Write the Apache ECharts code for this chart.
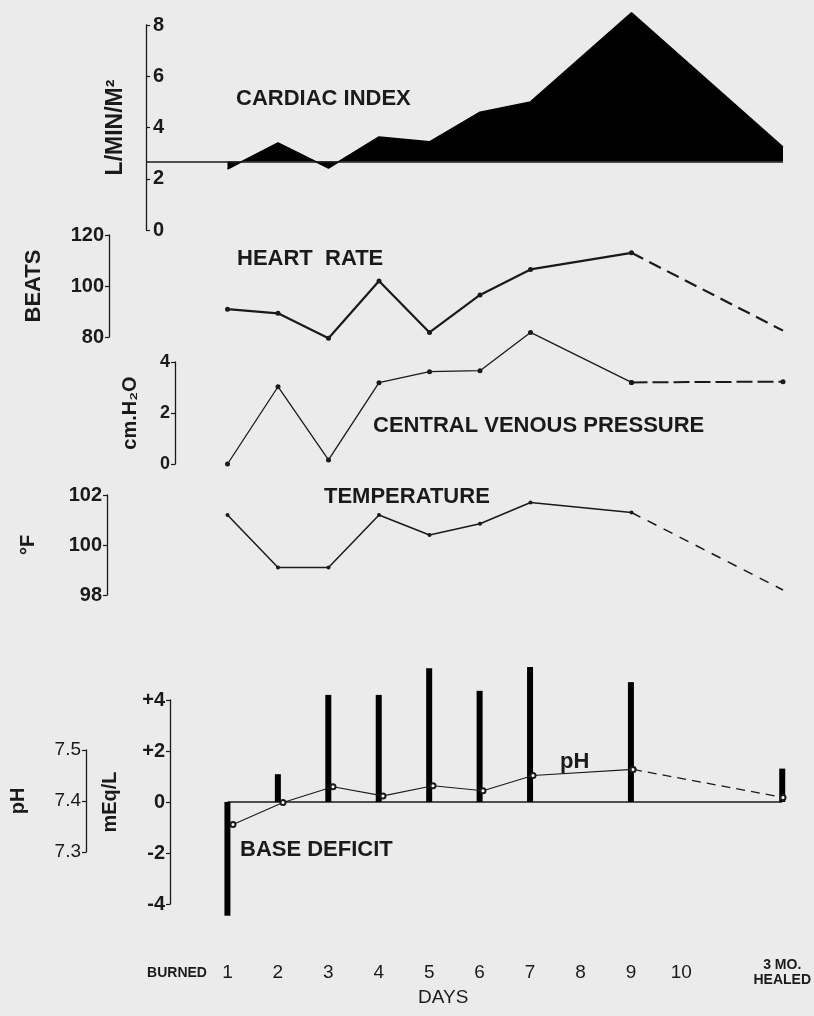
<!DOCTYPE html>
<html><head><meta charset="utf-8">
<script src="https://cdn.jsdelivr.net/npm/echarts@6/dist/echarts.min.js"></script>
<style>html,body{margin:0;padding:0;background:#ebebeb}#c{width:814px;height:1016px}</style>
</head><body><div id="c"></div><script>
// ---- data ----
const xTickLabels = ['BURNED','1','2','3','4','5','6','7','8','9','10','','3 MO.\nHEALED'];
const dayPos = [1,2,3,4,5,6,7,9,12];           // 12 = "3 MO. HEALED"
const cardiacIndex = [2.38,3.4,2.42,3.63,3.44,4.6,5.0,8.48,3.24];
const cardiacNormal = 2.67;
const heartRate = [90.9,89.3,79.5,102,81.8,96.5,106.5,113,82.5];
const cvp = [0.0,3.03,0.16,3.19,3.62,3.66,5.16,3.2,3.23];
const temperature = [101.2,99.1,99.1,101.2,100.4,100.85,101.7,101.3,98.2];
const pHValues = [7.354,7.397,7.428,7.41,7.43,7.42,7.45,7.462,7.407];
const baseDeficit = [-4.46,1.09,4.2,4.2,5.25,4.36,5.29,4.7,1.31];
const zeroLine = [0,0];
const zeroLineDays = [1,12];

// ---- helpers ----
const pairs = (vals, from, to) => dayPos.slice(from, to).map((d, i) => [d, vals[from + i]]);
const FONT = "'Liberation Sans', Arial, sans-serif";
const INK = '#1a1a1a';
const X0 = 177, DX = 50.5;   // pixel of day 0, pixels per day

const chart = echarts.init(document.getElementById('c'), null, {renderer: 'canvas'});

function hiddenX(gi, left) {
  return {gridIndex: gi, type: 'value', min: (left - X0) / DX, max: 12, show: false};
}
function yAx(gi, o) {
  return Object.assign({
    gridIndex: gi, type: 'value', position: 'left',
    splitLine: {show: false},
    axisLine: {show: true, onZero: false, lineStyle: {color: INK, width: 1.3}},
    axisTick: {show: true, length: 4, lineStyle: {color: INK, width: 1.2}},
    axisLabel: {color: INK, fontFamily: FONT, fontWeight: 'bold', fontSize: 20, margin: 5},
    nameLocation: 'middle', nameRotate: 90,
    nameTextStyle: {color: INK, fontFamily: FONT, fontWeight: 'bold', fontSize: 20}
  }, o);
}
const dot = {symbol: 'circle', symbolSize: 5, itemStyle: {color: INK}};

const grids = [
  {left: 146, top: 25, width: X0 + 12 * DX - 146, height: 205},
  {left: X0, top: 235, width: 12 * DX, height: 102},
  {left: X0, top: 362, width: 12 * DX, height: 102},
  {left: X0, top: 495, width: 12 * DX, height: 100},
  {left: X0, top: 700, width: 12 * DX, height: 204},
  {left: X0, top: 750, width: 12 * DX, height: 102}
];

const tStyle = {color: INK, fontFamily: FONT, fontWeight: 'bold', fontSize: 22};
const titles = [
  {text: 'CARDIAC INDEX', left: 236, top: 88},
  {text: 'HEART  RATE', left: 237, top: 248},
  {text: 'CENTRAL VENOUS PRESSURE', left: 373, top: 415},
  {text: 'TEMPERATURE', left: 324, top: 486},
  {text: 'pH', left: 560, top: 751},
  {text: 'BASE DEFICIT', left: 240, top: 839},
  {text: 'DAYS', left: 418, top: 988, textStyle: Object.assign({}, tStyle, {fontWeight: 'normal', fontSize: 19})}
].map(t => Object.assign({padding: 0, textStyle: tStyle}, t));

const option = {
  backgroundColor: '#ebebeb',
  animation: false,
  title: titles,
  grid: grids,
  xAxis: [
    hiddenX(0, 146), hiddenX(1, X0), hiddenX(2, X0), hiddenX(3, X0),
    {gridIndex: 4, type: 'value', min: 0, max: 12, interval: 1,
     axisLine: {show: false}, axisTick: {show: false}, splitLine: {show: false},
     axisLabel: {margin: 69, verticalAlign: 'middle', color: INK, fontFamily: FONT, fontSize: 19,
       formatter: v => {
         const t = xTickLabels[v] || '';
         if (v === 0) return '{s|' + t + '}';
         if (t.indexOf('\n') >= 0) return t.split('\n').map(s => '{s|' + s + '}').join('\n');
         return t;
       },
       rich: {s: {fontSize: 14, fontWeight: 'bold', fontFamily: FONT, color: INK, lineHeight: 15}}}},
    hiddenX(5, X0)
  ],
  yAxis: [
    yAx(0, {min: 0, max: 8, interval: 2, name: 'L/MIN/M²', nameGap: 19,
      nameTextStyle: {color: INK, fontFamily: FONT, fontWeight: 'bold', fontSize: 23},
      axisLabel: {inside: true, color: INK, fontFamily: FONT, fontWeight: 'bold', fontSize: 20, margin: 7},
      axisTick: {show: true, inside: true, length: 4, lineStyle: {color: INK, width: 1.2}}}),
    yAx(1, {min: 80, max: 120, interval: 20, offset: X0 - 109, name: 'BEATS', nameGap: 64,
      nameTextStyle: {color: INK, fontFamily: FONT, fontWeight: 'bold', fontSize: 22}}),
    yAx(2, {min: 0, max: 4, interval: 2, offset: X0 - 175, name: 'cm.H₂O', nameGap: 35,
      axisLabel: {color: INK, fontFamily: FONT, fontWeight: 'bold', fontSize: 18, margin: 5}}),
    yAx(3, {min: 98, max: 102, interval: 2, offset: X0 - 107, name: '°F', nameGap: 69}),
    yAx(4, {min: -4, max: 4, interval: 2, offset: X0 - 170, name: 'mEq/L', nameGap: 50,
      axisLabel: {color: INK, fontFamily: FONT, fontWeight: 'bold', fontSize: 20, margin: 5,
        formatter: v => (v > 0 ? '+' + v : String(v))}}),
    yAx(5, {min: 7.3, max: 7.5, interval: 0.1, offset: X0 - 80, name: 'pH', nameGap: 58,
      axisLabel: {color: INK, fontFamily: FONT, fontWeight: 'normal', fontSize: 19, margin: 5,
        formatter: v => v.toFixed(1)}})
  ],
  series: [
    // Cardiac index: filled against normal line
    {type: 'line', xAxisIndex: 0, yAxisIndex: 0, data: pairs(cardiacIndex, 0, 9), clip: false,
     showSymbol: false, lineStyle: {color: '#000', width: 1.5},
     areaStyle: {color: '#000', opacity: 1, origin: cardiacNormal},
     markLine: {silent: true, symbol: 'none', label: {show: false},
       lineStyle: {color: INK, width: 1.6, type: 'solid'}, data: [{yAxis: cardiacNormal}]}},
    // Heart rate
    Object.assign({type: 'line', xAxisIndex: 1, yAxisIndex: 1, data: pairs(heartRate, 0, 8), clip: false,
     lineStyle: {color: INK, width: 2.2}}, dot),
    {type: 'line', xAxisIndex: 1, yAxisIndex: 1, data: pairs(heartRate, 7, 9), clip: false, showSymbol: false,
     lineStyle: {color: INK, width: 2.2, type: [13, 7]}},
    // CVP
    Object.assign({type: 'line', xAxisIndex: 2, yAxisIndex: 2, data: pairs(cvp, 0, 8), clip: false,
     lineStyle: {color: INK, width: 1.3}}, dot),
    Object.assign({type: 'line', xAxisIndex: 2, yAxisIndex: 2, data: pairs(cvp, 7, 9), clip: false,
     lineStyle: {color: INK, width: 2, type: [16, 5]}}, dot),
    // Temperature
    Object.assign({type: 'line', xAxisIndex: 3, yAxisIndex: 3, data: pairs(temperature, 0, 8), clip: false,
     lineStyle: {color: INK, width: 1.5}}, dot, {symbolSize: 4}),
    {type: 'line', xAxisIndex: 3, yAxisIndex: 3, data: pairs(temperature, 7, 9), clip: false, showSymbol: false,
     lineStyle: {color: INK, width: 1.5, type: [10, 8]}},
    // Base deficit zero line
    {type: 'line', xAxisIndex: 4, yAxisIndex: 4, data: zeroLineDays.map((d, i) => [d, zeroLine[i]]),
     showSymbol: false, lineStyle: {color: INK, width: 1.6}, z: 1},
    // Base deficit bars
    {type: 'bar', xAxisIndex: 4, yAxisIndex: 4, data: pairs(baseDeficit, 0, 9), clip: false,
     barWidth: 6, itemStyle: {color: '#000'}, z: 2},
    // pH
    {type: 'line', xAxisIndex: 5, yAxisIndex: 5, data: pairs(pHValues, 0, 8), clip: false,
     symbol: 'emptyCircle', symbolSize: 5, itemStyle: {color: INK, borderWidth: 1},
     lineStyle: {color: INK, width: 1.1}, z: 3},
    {type: 'line', xAxisIndex: 5, yAxisIndex: 5, data: pairs(pHValues, 7, 9), clip: false,
     symbol: 'emptyCircle', symbolSize: 5, itemStyle: {color: INK, borderWidth: 1},
     lineStyle: {color: INK, width: 1.3, type: [9, 6]}, z: 3}
  ]
};
chart.setOption(option);
</script></body></html>
